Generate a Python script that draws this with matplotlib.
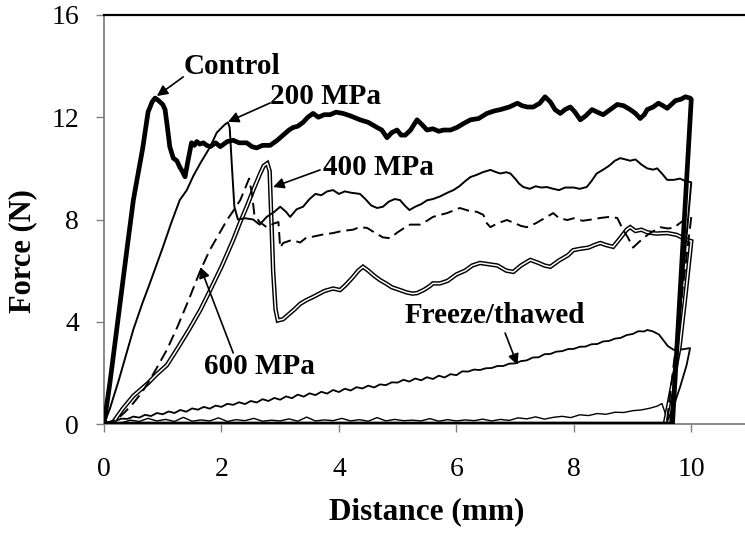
import matplotlib
matplotlib.use("Agg")
import matplotlib.pyplot as plt

plt.rcParams['font.family'] = ['Liberation Serif', 'DejaVu Serif']

# ---------------- data (Distance mm, Force N) ----------------
control_pts = [(0, 0), (0.1, 1.6), (0.25, 4.3), (0.4, 7.0), (0.5, 8.76), (0.53, 9.15), (0.66, 10.8),
               (0.75, 12.2), (0.82, 12.6), (0.87, 12.75), (0.93, 12.65), (1.0, 12.5), (1.04, 12.3),
               (1.08, 11.6), (1.12, 10.85), (1.18, 10.4), (1.24, 10.3), (1.29, 10.05), (1.33, 9.9),
               (1.38, 9.67), (1.43, 10.3), (1.49, 11.0), (1.54, 10.9), (1.58, 11.05), (1.63, 10.95),
               (1.69, 11.0), (1.75, 10.9), (1.81, 10.85), (1.9, 11.0), (1.98, 10.85), (2.1, 11.05),
               (2.2, 11.1), (2.3, 11.0), (2.43, 11.0), (2.52, 10.85), (2.6, 10.8), (2.7, 10.9),
               (2.83, 10.9), (2.95, 11.1), (3.05, 11.3), (3.15, 11.5), (3.22, 11.6), (3.3, 11.65),
               (3.39, 11.8), (3.47, 12.0), (3.56, 12.15), (3.65, 12.0), (3.75, 12.1), (3.85, 12.1),
               (3.95, 12.2), (4.07, 12.15), (4.2, 12.05), (4.36, 11.9), (4.5, 11.8), (4.65, 11.6),
               (4.73, 11.5), (4.82, 11.2), (4.9, 11.4), (4.99, 11.5), (5.06, 11.3), (5.13, 11.3),
               (5.22, 11.5), (5.33, 11.9), (5.42, 11.7), (5.5, 11.5), (5.6, 11.55), (5.7, 11.45),
               (5.78, 11.5), (5.9, 11.5), (6.01, 11.6), (6.12, 11.75), (6.24, 11.9), (6.38, 11.95),
               (6.52, 12.15), (6.65, 12.25), (6.75, 12.3), (6.9, 12.4), (7.04, 12.55), (7.12, 12.45),
               (7.21, 12.4), (7.31, 12.4), (7.42, 12.55), (7.51, 12.8), (7.6, 12.6), (7.68, 12.3),
               (7.77, 12.15), (7.85, 12.3), (7.94, 12.4), (8.02, 12.2), (8.11, 11.9), (8.2, 12.05),
               (8.31, 12.3), (8.4, 12.2), (8.5, 12.1), (8.62, 12.3), (8.74, 12.5), (8.85, 12.45),
               (8.96, 12.3), (9.05, 12.15), (9.13, 11.95), (9.2, 12.1), (9.25, 12.3), (9.35, 12.4),
               (9.44, 12.55), (9.52, 12.45), (9.59, 12.35), (9.66, 12.5), (9.73, 12.65), (9.82, 12.7),
               (9.9, 12.8), (9.98, 12.75), (10.0, 12.7), (9.68, 0), (0.0, 0)]

mpa200_pts = [(0, 0), (0.1, 0.6), (0.25, 1.7), (0.4, 2.9), (0.5, 3.7), (0.65, 4.7), (0.78, 5.5),
              (1.0, 6.9), (1.15, 7.9), (1.29, 8.76), (1.41, 9.15), (1.52, 9.7), (1.64, 10.2),
              (1.81, 10.85), (1.92, 11.4), (2.05, 11.7), (2.11, 11.8), (2.14, 11.6), (2.18, 10.0),
              (2.22, 8.5), (2.28, 8.0), (2.4, 8.05), (2.54, 8.0), (2.65, 7.8), (2.77, 8.1),
              (2.9, 8.3), (3.0, 8.5), (3.1, 8.3), (3.17, 8.1), (3.28, 8.4), (3.39, 8.5),
              (3.5, 8.8), (3.6, 9.0), (3.7, 8.95), (3.8, 9.1), (3.9, 9.15), (4.0, 9.0), (4.1, 9.1),
              (4.2, 9.05), (4.36, 9.0), (4.45, 8.8), (4.55, 8.55), (4.65, 8.45), (4.75, 8.5),
              (4.85, 8.7), (4.95, 8.8), (5.04, 8.76), (5.12, 8.55), (5.2, 8.37), (5.3, 8.5),
              (5.4, 8.6), (5.5, 8.75), (5.6, 8.8), (5.72, 8.9), (5.85, 9.05), (5.95, 9.15),
              (6.05, 9.3), (6.15, 9.5), (6.24, 9.66), (6.35, 9.75), (6.45, 9.85), (6.58, 9.94),
              (6.68, 9.85), (6.75, 9.8), (6.85, 9.85), (6.92, 9.8), (7.0, 9.6), (7.07, 9.4),
              (7.14, 9.27), (7.25, 9.2), (7.35, 9.3), (7.45, 9.25), (7.54, 9.27), (7.65, 9.2),
              (7.75, 9.15), (7.85, 9.25), (8.0, 9.25), (8.1, 9.2), (8.22, 9.27), (8.3, 9.5),
              (8.39, 9.8), (8.5, 9.95), (8.6, 10.1), (8.7, 10.3), (8.79, 10.4), (8.88, 10.35),
              (8.96, 10.3), (9.05, 10.35), (9.15, 10.15), (9.25, 10.0), (9.35, 9.95), (9.42, 10.0),
              (9.5, 9.8), (9.59, 9.55), (9.7, 9.55), (9.81, 9.6), (9.9, 9.5), (9.98, 9.47),
              (10.0, 9.45), (9.64, 0)]

mpa600_pts = [(0, 0), (0.2, 0.15), (0.35, 0.45), (0.5, 0.82), (0.65, 1.25), (0.78, 1.72), (0.9, 2.2),
              (1.07, 2.9), (1.25, 3.8), (1.45, 4.9), (1.64, 6.0), (1.8, 6.8), (1.95, 7.4), (2.1, 8.0),
              (2.22, 8.4), (2.32, 8.76), (2.4, 9.2), (2.47, 9.6), (2.52, 9.0), (2.56, 8.2),
              (2.65, 7.9), (2.77, 7.7), (2.9, 7.85), (2.97, 7.9), (3.0, 6.9), (3.05, 7.08),
              (3.2, 7.2), (3.34, 7.1), (3.45, 7.3), (3.56, 7.33), (3.7, 7.4), (3.9, 7.47),
              (4.05, 7.55), (4.24, 7.6), (4.35, 7.7), (4.48, 7.67), (4.6, 7.5), (4.75, 7.3),
              (4.87, 7.27), (5.0, 7.5), (5.1, 7.65), (5.21, 7.8), (5.38, 7.8), (5.5, 7.95),
              (5.6, 8.1), (5.72, 8.18), (5.84, 8.25), (5.95, 8.35), (6.06, 8.45), (6.2, 8.35),
              (6.35, 8.3), (6.46, 8.18), (6.52, 7.85), (6.58, 7.7), (6.7, 7.85), (6.86, 7.98),
              (7.0, 7.85), (7.1, 7.75), (7.2, 7.7), (7.35, 7.85), (7.5, 8.05), (7.65, 8.25),
              (7.75, 8.05), (7.89, 7.98), (8.0, 8.05), (8.15, 7.95), (8.3, 8.0), (8.45, 8.06),
              (8.6, 8.1), (8.74, 8.06), (8.84, 7.59), (8.92, 7.3), (9.01, 6.9), (9.1, 7.1),
              (9.2, 7.3), (9.3, 7.47), (9.4, 7.6), (9.47, 7.7), (9.6, 7.65), (9.7, 7.67),
              (9.8, 7.85), (9.93, 8.06), (10.0, 8.1), (9.58, 0)]

mpa400_pts = [(0, 0), (0.15, 0.05), (0.32, 0.6), (0.5, 1.1), (0.75, 1.6), (0.9, 1.95), (1.07, 2.3),
              (1.25, 2.95), (1.45, 3.7), (1.64, 4.46), (1.8, 5.2), (2.0, 6.15), (2.2, 7.2),
              (2.32, 7.9), (2.43, 8.5), (2.55, 9.2), (2.65, 9.75), (2.72, 10.1), (2.78, 10.2),
              (2.82, 9.9), (2.85, 8.0), (2.88, 6.0), (2.92, 4.5), (2.96, 4.05), (3.05, 4.1),
              (3.15, 4.3), (3.25, 4.5), (3.34, 4.7), (3.45, 4.85), (3.56, 4.97), (3.75, 5.2),
              (3.9, 5.3), (4.02, 5.24), (4.12, 5.45), (4.24, 5.75), (4.33, 6.0), (4.41, 6.15),
              (4.5, 6.0), (4.6, 5.8), (4.7, 5.63), (4.8, 5.5), (4.9, 5.35), (5.04, 5.24),
              (5.15, 5.15), (5.25, 5.1), (5.33, 5.12), (5.45, 5.25), (5.55, 5.4), (5.6, 5.5),
              (5.72, 5.5), (5.85, 5.6), (6.0, 5.85), (6.15, 6.0), (6.27, 6.2), (6.4, 6.3),
              (6.55, 6.25), (6.7, 6.2), (6.85, 6.0), (6.97, 5.95), (7.1, 6.2), (7.26, 6.42),
              (7.4, 6.3), (7.5, 6.2), (7.6, 6.15), (7.75, 6.4), (7.9, 6.6), (7.99, 6.8),
              (8.1, 6.85), (8.25, 6.9), (8.35, 7.0), (8.45, 7.08), (8.55, 7.0), (8.67, 6.93),
              (8.8, 7.3), (8.9, 7.6), (8.96, 7.7), (9.05, 7.55), (9.15, 7.6), (9.25, 7.5),
              (9.4, 7.45), (9.59, 7.47), (9.75, 7.4), (9.93, 7.2), (10.0, 7.15), (9.9, 5.0),
              (9.8, 3.0), (9.55, 0)]

freeze_x = [0.0, 0.1, 0.2, 0.3, 0.4, 0.5, 0.6, 0.7, 0.8, 0.9, 1.0, 1.1, 1.2, 1.3, 1.4, 1.5, 1.6, 1.7,
            1.8, 1.9, 2.0, 2.1, 2.2, 2.3, 2.4, 2.5, 2.6, 2.7, 2.8, 2.9, 3.0, 3.1, 3.2, 3.3, 3.4, 3.5,
            3.6, 3.7, 3.8, 3.9, 4.0, 4.1, 4.2, 4.3, 4.4, 4.5, 4.6, 4.7, 4.8, 4.9, 5.0, 5.1, 5.2, 5.3,
            5.4, 5.5, 5.6, 5.7, 5.8, 5.9, 6.0, 6.1, 6.2, 6.3, 6.4, 6.5, 6.6, 6.7, 6.8, 6.9, 7.0, 7.1,
            7.2, 7.3, 7.4, 7.5, 7.6, 7.7, 7.8, 7.9, 8.0, 8.1, 8.2, 8.3, 8.4, 8.5, 8.6, 8.7, 8.8, 8.9,
            9.0, 9.1, 9.2, 9.25, 9.35, 9.45, 9.52, 9.6, 9.7, 9.85, 9.98, 9.92, 9.81, 9.7, 9.6, 9.55]
freeze_y = [0.0, 0.09, 0.13, 0.21, 0.20, 0.29, 0.25, 0.36, 0.31, 0.43, 0.38, 0.49, 0.43, 0.55, 0.48,
            0.61, 0.56, 0.67, 0.60, 0.72, 0.67, 0.79, 0.75, 0.85, 0.78, 0.90, 0.84, 0.97, 0.90, 1.02,
            0.95, 1.08, 1.01, 1.15, 1.07, 1.20, 1.13, 1.26, 1.19, 1.33, 1.25, 1.38, 1.31, 1.44, 1.39,
            1.50, 1.43, 1.55, 1.52, 1.63, 1.62, 1.73, 1.66, 1.78, 1.71, 1.83, 1.76, 1.89, 1.82, 1.95,
            1.91, 2.06, 2.05, 2.13, 2.11, 2.18, 2.19, 2.27, 2.27, 2.36, 2.37, 2.46, 2.49, 2.60, 2.61,
            2.73, 2.74, 2.83, 2.85, 2.93, 2.94, 3.02, 3.03, 3.12, 3.13, 3.23, 3.25, 3.34, 3.37, 3.48,
            3.52, 3.63, 3.62, 3.68, 3.62, 3.50, 3.29, 3.05, 2.90, 2.92, 2.97, 2.30, 1.45, 0.70, 0.15, 0.0]

base_x = [0.3, 0.45, 0.6, 0.75, 0.9, 1.05, 1.2, 1.35, 1.5, 1.65, 1.8, 1.95, 2.1, 2.25, 2.4, 2.55, 2.7,
          2.85, 3.0, 3.15, 3.3, 3.45, 3.6, 3.75, 3.9, 4.05, 4.2, 4.35, 4.5, 4.65, 4.8, 4.95, 5.1, 5.25,
          5.4, 5.55, 5.7, 5.85, 6.0, 6.15, 6.3, 6.45, 6.6, 6.75, 6.9, 7.05, 7.2, 7.35, 7.5, 7.65, 7.8,
          7.95, 8.1, 8.25, 8.4, 8.55, 8.7, 8.85, 9.0, 9.15, 9.3, 9.42, 9.5, 9.56, 9.6]
base_y = [0.05, 0.15, 0.10, 0.22, 0.12, 0.18, 0.10, 0.26, 0.11, 0.16, 0.12, 0.24, 0.10, 0.17, 0.13,
          0.22, 0.11, 0.15, 0.12, 0.20, 0.11, 0.27, 0.12, 0.16, 0.13, 0.22, 0.12, 0.17, 0.11, 0.25,
          0.12, 0.18, 0.13, 0.15, 0.12, 0.21, 0.11, 0.17, 0.12, 0.16, 0.13, 0.19, 0.12, 0.18, 0.14,
          0.24, 0.20, 0.28, 0.19, 0.26, 0.30, 0.25, 0.36, 0.33, 0.41, 0.38, 0.46, 0.45, 0.52, 0.55,
          0.62, 0.70, 0.80, 0.40, 0.0]

x_ticks = [0, 2, 4, 6, 8, 10]
y_ticks = [0, 4, 8, 12, 16]

labels = ["Control", "200 MPa", "400 MPa", "600 MPa", "Freeze/thawed"]
label_xy = [(2.18, 14.0), (3.78, 12.8), (4.67, 10.02), (2.64, 2.23), (6.66, 4.23)]
arrow_tail = [(1.35, 13.58), (2.83, 12.56), (3.68, 9.94), (2.2, 2.78), (6.83, 3.56)]
arrow_head = [(0.90, 12.83), (2.11, 11.82), (2.88, 9.27), (1.64, 6.14), (7.04, 2.31)]

# ---------------- figure ----------------
fig = plt.figure(figsize=(7.45, 5.33), dpi=100)
ax = fig.add_axes([104 / 745, 1 - 424 / 533, 646 / 745, (424 - 15) / 533])

def xy(pts):
    return [p[0] for p in pts], [p[1] for p in pts]

# thin noisy baseline and freeze/thawed
ax.plot(base_x, base_y, color='black', lw=1.0, zorder=2)
ax.plot(freeze_x, freeze_y, color='black', lw=1.3, zorder=2)

# 400 MPa (double line)
x4, y4 = xy(mpa400_pts)
ax.plot(x4, y4, color='black', lw=3.2, zorder=3, solid_joinstyle='miter')
ax.plot(x4, y4, color='white', lw=1.1, zorder=3.1)

# 600 MPa dashed
x6, y6 = xy(mpa600_pts)
ax.plot(x6, y6, color='black', lw=1.4, ls=(0, (6, 3)), zorder=4)

# 200 MPa solid thin
x2, y2 = xy(mpa200_pts)
ax.plot(x2, y2, color='black', lw=1.4, zorder=4)

# Control thick
xc, yc = xy(control_pts)
ax.plot(xc, yc, color='black', lw=3.4, zorder=5, solid_joinstyle='round')

for lab, pos, tail, head in zip(labels, label_xy, arrow_tail, arrow_head):
    ax.annotate('', xy=head, xytext=tail,
                arrowprops=dict(arrowstyle='-|>', color='black', lw=1.2,
                                mutation_scale=16, shrinkA=0, shrinkB=0), zorder=6)
    ax.text(pos[0], pos[1], lab, ha='center', va='center', fontsize=21,
            fontweight='bold', zorder=7)

ax.set_xlim(0, 11)
ax.set_ylim(0, 16)
ax.set_xticks(x_ticks)
ax.set_yticks(y_ticks)
ax.tick_params(axis='both', direction='out', length=6, width=1.0, color='#808080',
               labelsize=20)
ax.tick_params(axis='x', pad=18)
ax.tick_params(axis='y', pad=12)

ax.spines['right'].set_visible(False)
ax.spines['left'].set_color('#808080')
ax.spines['bottom'].set_color('#808080')
ax.spines['left'].set_linewidth(1.3)
ax.spines['bottom'].set_linewidth(1.3)
ax.spines['top'].set_color('black')
ax.spines['top'].set_linewidth(1.6)

ax.set_xlabel('Distance (mm)', fontsize=22.5, fontweight='bold')
ax.set_ylabel('Force (N)', fontsize=22, fontweight='bold')
ax.xaxis.set_label_coords(0.5, -0.178)
ax.yaxis.set_label_coords(-0.104, 0.423)

fig.savefig('out.png', dpi=100)
